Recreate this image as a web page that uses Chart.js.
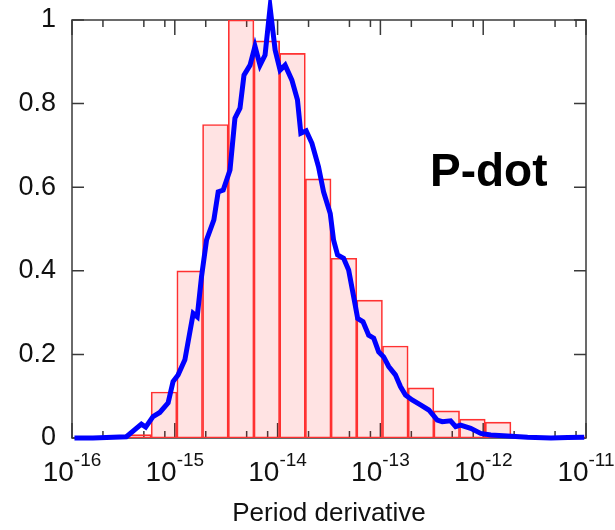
<!DOCTYPE html>
<html>
<head>
<meta charset="utf-8">
<script src="https://cdn.jsdelivr.net/npm/chart.js@4.4.1/dist/chart.umd.min.js"></script>
<style>
  html, body { margin: 0; padding: 0; background: #fff; }
</style>
</head>
<body>
<canvas id="pdotChart" width="615" height="530"></canvas>
<script>
// Histogram: centre of each quarter-decade bin (log10 of P-dot) and its normalised height
const binCentreExp = [-15.355, -15.105, -14.855, -14.605, -14.355, -14.105, -13.855, -13.605, -13.355,
    -13.105, -12.855, -12.605, -12.355, -12.105, -11.855, -11.605, -11.355, -11.105];
const binHeight = [0.008, 0.11, 0.40, 0.75, 1.00, 0.95, 0.92, 0.62, 0.43,
    0.33, 0.22, 0.12, 0.065, 0.045, 0.038, 0.004, 0.003, 0.003];

// Blue curve: log10 of P-dot and normalised value
const curveExp = [-15.976, -15.797, -15.471, -15.325, -15.283, -15.212, -15.146, -15.065, -15.017, -14.968,
    -14.902, -14.821, -14.782, -14.740, -14.691, -14.620, -14.578, -14.529, -14.463, -14.415,
    -14.366, -14.327, -14.268, -14.220, -14.171, -14.122, -14.073, -14.024, -13.976, -13.927,
    -13.861, -13.807, -13.774, -13.722, -13.666, -13.602, -13.553, -13.488, -13.456, -13.417,
    -13.358, -13.309, -13.260, -13.221, -13.169, -13.114, -13.065, -13.017, -12.968, -12.919,
    -12.854, -12.805, -12.756, -12.691, -12.610, -12.529, -12.447, -12.398, -12.317, -12.268,
    -12.220, -12.122, -12.024, -11.927, -11.763, -11.568, -11.341, -11.178, -11.017];
const curveValue = [0.0, 0.0, 0.003, 0.033, 0.026, 0.051, 0.061, 0.084, 0.135, 0.151,
    0.187, 0.298, 0.29, 0.386, 0.474, 0.522, 0.589, 0.593, 0.641, 0.765,
    0.789, 0.868, 0.892, 0.937, 0.892, 0.916, 1.03, 0.928, 0.880, 0.892,
    0.856, 0.809, 0.729, 0.735, 0.705, 0.649, 0.589, 0.537, 0.474, 0.438,
    0.43, 0.402, 0.338, 0.286, 0.278, 0.246, 0.239, 0.206, 0.194, 0.171,
    0.151, 0.123, 0.103, 0.091, 0.079, 0.067, 0.043, 0.039, 0.041, 0.027,
    0.031, 0.023, 0.011, 0.007, 0.005, 0.002, 0.0, 0.001, 0.002];

// Axis ticks
const xMajorExp = [-16, -15, -14, -13, -12, -11];
const xTickBase = '10';
const xTickPowers = ['-16', '-15', '-14', '-13', '-12', '-11'];
const xMinorMantissa = [2, 5, 8];
const yTicks = [0, 0.2, 0.4, 0.6, 0.8, 1];
const yTickLabels = ['0', '0.2', '0.4', '0.6', '0.8', '1'];

const fontFamily = '"Liberation Sans", Arial, sans-serif';

// Frame with inward ticks on all four sides, power-of-ten labels and the "P-dot" label
const framePlugin = {
    id: 'frameTicks',
    beforeDatasetsDraw(chart) {
        const { ctx, chartArea: a, scales: { x, y } } = chart;
        ctx.save();
        ctx.strokeStyle = '#3a3a3a';
        ctx.lineWidth = 1.5;
        ctx.strokeRect(a.left, a.top, a.right - a.left, a.bottom - a.top);
        ctx.beginPath();
        xMajorExp.forEach(e => {
            const px = x.getPixelForValue(Math.pow(10, e));
            ctx.moveTo(px, a.bottom); ctx.lineTo(px, a.bottom - 15);
            ctx.moveTo(px, a.top); ctx.lineTo(px, a.top + 15);
            if (e < -11) {
                xMinorMantissa.forEach(m => {
                    const pm = x.getPixelForValue(m * Math.pow(10, e));
                    ctx.moveTo(pm, a.bottom); ctx.lineTo(pm, a.bottom - 7);
                    ctx.moveTo(pm, a.top); ctx.lineTo(pm, a.top + 7);
                });
            }
        });
        yTicks.forEach(v => {
            const py = y.getPixelForValue(v);
            ctx.moveTo(a.left, py); ctx.lineTo(a.left + 12, py);
            ctx.moveTo(a.right, py); ctx.lineTo(a.right - 12, py);
        });
        ctx.stroke();
        ctx.restore();
    },
    afterDraw(chart) {
        const { ctx, chartArea: a, scales: { x } } = chart;
        ctx.save();
        ctx.fillStyle = '#111';
        ctx.textBaseline = 'alphabetic';
        ctx.textAlign = 'left';
        const baseFont = '28px ' + fontFamily;
        const powFont = '19px ' + fontFamily;
        xMajorExp.forEach((e, i) => {
            const px = x.getPixelForValue(Math.pow(10, e));
            ctx.font = baseFont;
            const wBase = ctx.measureText(xTickBase).width;
            ctx.font = powFont;
            const wPow = ctx.measureText(xTickPowers[i]).width;
            const left = px - (wBase + wPow) / 2;
            ctx.font = baseFont;
            ctx.fillText(xTickBase, left, a.bottom + 43);
            ctx.font = powFont;
            ctx.fillText(xTickPowers[i], left + wBase, a.bottom + 28);
        });

        ctx.fillStyle = '#000';
        ctx.font = 'bold 46px ' + fontFamily;
        ctx.fillText('P-dot', 430, 186);
        ctx.restore();
    }
};

const ctx = document.getElementById('pdotChart').getContext('2d');
new Chart(ctx, {
    type: 'bar',
    data: {
        datasets: [{
            type: 'line',
            data: curveExp.map((e, i) => ({ x: Math.pow(10, e), y: curveValue[i] })),
            borderColor: '#0000ff',
            borderWidth: 5,
            pointRadius: 0,
            fill: false,
            tension: 0,
            clip: false,
            order: 0
        }, {
            type: 'bar',
            data: binCentreExp.map((e, i) => ({ x: Math.pow(10, e), y: binHeight[i] })),
            backgroundColor: 'rgba(255, 0, 0, 0.11)',
            borderColor: '#ff3333',
            borderWidth: 1,
            borderSkipped: false,
            categoryPercentage: 1,
            barPercentage: 1,
            order: 1
        }]
    },
    options: {
        responsive: false,
        devicePixelRatio: 1,
        animation: false,
        layout: { padding: { top: 20, right: 29, left: 0, bottom: 0 } },
        plugins: {
            legend: { display: false },
            tooltip: { enabled: false }
        },
        scales: {
            x: {
                type: 'logarithmic',
                min: 1e-16,
                max: 1e-11,
                offset: false,
                grid: { display: false, drawTicks: false },
                border: { display: false },
                afterBuildTicks: s => { s.ticks = xMajorExp.map(e => ({ value: Math.pow(10, e), major: true })); },
                ticks: { display: false, autoSkip: false, maxRotation: 0 },
                title: {
                    display: true,
                    text: 'Period derivative',
                    color: '#111',
                    font: { family: fontFamily, size: 26 },
                    padding: { top: 0, bottom: 1 }
                },
                afterFit: s => { s.height = 92; s.paddingLeft = 0; s.paddingRight = 0; }
            },
            y: {
                min: 0,
                max: 1,
                grid: { display: false, drawTicks: false },
                border: { display: false },
                afterBuildTicks: s => { s.ticks = yTicks.map(v => ({ value: v })); },
                ticks: {
                    padding: 16,
                    color: '#111',
                    font: { family: fontFamily, size: 27 },
                    callback: (v, i) => yTickLabels[i]
                },
                afterFit: s => { s.width = 72; s.paddingTop = 0; s.paddingBottom = 0; }
            }
        }
    },
    plugins: [framePlugin]
});
</script>
</body>
</html>
